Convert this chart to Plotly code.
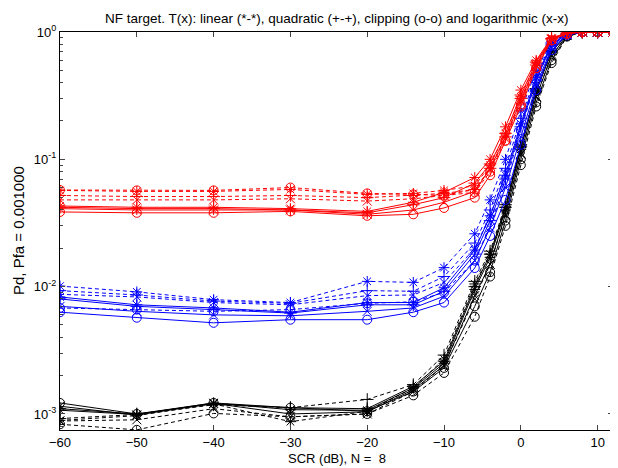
import plotly.graph_objects as go

x = [-60, -50, -40, -30, -20, -14, -10, -6, -4, -2, 0, 2, 4, 6, 8, 10, 12]

# Red group
R_s_lin  = [0.043, 0.042, 0.042, 0.041, 0.039, 0.046, 0.055, 0.072, 0.10, 0.18, 0.35, 0.60, 0.90, 0.98, 1, 1, 1]
R_s_quad = [0.042, 0.041, 0.041, 0.040, 0.038, 0.044, 0.050, 0.065, 0.092, 0.16, 0.32, 0.58, 0.89, 0.98, 1, 1, 1]
R_s_clip = [0.0386, 0.038, 0.038, 0.039, 0.036, 0.037, 0.0415, 0.050, 0.075, 0.14, 0.26, 0.52, 0.86, 0.97, 1, 1, 1]
R_s_log  = [0.041, 0.040, 0.040, 0.040, 0.037, 0.040, 0.046, 0.056, 0.085, 0.15, 0.29, 0.55, 0.88, 0.98, 1, 1, 1]
R_d_lin  = [0.057, 0.056, 0.056, 0.058, 0.053, 0.054, 0.057, 0.062, 0.09, 0.16, 0.31, 0.57, 0.89, 0.98, 1, 1, 1]
R_d_quad = [0.052, 0.051, 0.051, 0.052, 0.050, 0.052, 0.054, 0.058, 0.085, 0.15, 0.30, 0.55, 0.88, 0.98, 1, 1, 1]
R_d_clip = [0.0574, 0.057, 0.057, 0.060, 0.054, 0.053, 0.052, 0.055, 0.08, 0.14, 0.27, 0.52, 0.86, 0.97, 1, 1, 1]
R_d_log  = [0.048, 0.048, 0.048, 0.049, 0.047, 0.049, 0.052, 0.058, 0.083, 0.145, 0.28, 0.54, 0.87, 0.98, 1, 1, 1]

# Blue group
B_d_lin  = [0.0101, 0.0091, 0.0079, 0.0075, 0.011, 0.0108, 0.0141, 0.026, 0.048, 0.10, 0.24, 0.50, 0.84, 0.97, 1, 1, 1]
B_d_quad = [0.0093, 0.0086, 0.0077, 0.0074, 0.0093, 0.0092, 0.012, 0.022, 0.040, 0.085, 0.21, 0.46, 0.82, 0.97, 1, 1, 1]
B_d_clip = [0.0068, 0.0066, 0.0064, 0.0066, 0.0074, 0.0076, 0.0090, 0.016, 0.030, 0.065, 0.17, 0.42, 0.78, 0.96, 1, 1, 1]
B_d_log  = [0.0087, 0.0083, 0.0075, 0.0072, 0.0085, 0.0086, 0.0108, 0.020, 0.036, 0.078, 0.19, 0.44, 0.80, 0.96, 1, 1, 1]
B_s_lin  = [0.0083, 0.0072, 0.0068, 0.0063, 0.0075, 0.0075, 0.0098, 0.0194, 0.036, 0.075, 0.19, 0.44, 0.80, 0.96, 1, 1, 1]
B_s_quad = [0.0080, 0.0070, 0.0066, 0.0062, 0.0072, 0.0072, 0.0092, 0.018, 0.033, 0.07, 0.18, 0.42, 0.79, 0.96, 1, 1, 1]
B_s_clip = [0.0063, 0.0057, 0.0052, 0.0055, 0.0055, 0.0063, 0.0075, 0.014, 0.025, 0.048, 0.13, 0.35, 0.72, 0.95, 1, 1, 1]
B_s_log  = [0.0070, 0.0064, 0.0060, 0.0059, 0.0064, 0.0068, 0.0084, 0.016, 0.029, 0.060, 0.15, 0.38, 0.75, 0.95, 1, 1, 1]

# Black group
K_s_lin  = [0.00107, 0.00099, 0.00122, 0.00108, 0.00107, 0.0016, 0.0025, 0.0095, 0.017, 0.040, 0.12, 0.34, 0.70, 0.95, 1, 1, 1]
K_s_quad = [0.00110, 0.00100, 0.00120, 0.00112, 0.00110, 0.00165, 0.0026, 0.010, 0.018, 0.042, 0.125, 0.35, 0.71, 0.95, 1, 1, 1]
K_s_clip = [0.00122, 0.00100, 0.00122, 0.00112, 0.00105, 0.0015, 0.0023, 0.0070, 0.013, 0.033, 0.10, 0.28, 0.60, 0.93, 1, 1, 1]
K_s_log  = [0.00115, 0.00098, 0.00121, 0.00100, 0.00104, 0.00155, 0.0024, 0.0085, 0.015, 0.037, 0.11, 0.31, 0.65, 0.94, 1, 1, 1]
K_d_lin  = [0.00089, 0.00097, 0.00120, 0.00087, 0.00105, 0.0016, 0.0027, 0.0105, 0.018, 0.042, 0.125, 0.35, 0.71, 0.95, 1, 1, 1]
K_d_quad = [0.00092, 0.00099, 0.00118, 0.00112, 0.0013, 0.0017, 0.0029, 0.011, 0.019, 0.044, 0.13, 0.36, 0.72, 0.95, 1, 1, 1]
K_d_clip = [0.00083, 0.00075, 0.00101, 0.00095, 0.00100, 0.0014, 0.0021, 0.0058, 0.012, 0.030, 0.09, 0.26, 0.57, 0.92, 1, 1, 1]
K_d_log  = [0.00088, 0.00090, 0.00110, 0.00095, 0.00100, 0.0015, 0.0024, 0.0080, 0.015, 0.036, 0.11, 0.31, 0.65, 0.94, 1, 1, 1]

x_ticks = [-60, -50, -40, -30, -20, -10, 0, 10]
y_ticks = [1e-3, 1e-2, 1e-1, 1]
y_tick_text = ["10<sup>-3</sup>", "10<sup>-2</sup>", "10<sup>-1</sup>", "10<sup>0</sup>"]

FONT = "Liberation Sans, Arial, Helvetica, sans-serif"

groups = [
    ("#000000", [(K_s_lin, K_s_quad, K_s_clip, K_s_log, "solid"), (K_d_lin, K_d_quad, K_d_clip, K_d_log, "4px,3px")]),
    ("#0000ff", [(B_s_lin, B_s_quad, B_s_clip, B_s_log, "solid"), (B_d_lin, B_d_quad, B_d_clip, B_d_log, "4px,3px")]),
    ("#ff0000", [(R_s_lin, R_s_quad, R_s_clip, R_s_log, "solid"), (R_d_lin, R_d_quad, R_d_clip, R_d_log, "4px,3px")]),
]
symbols = ["asterisk-open", "cross-thin-open", "circle-open", "x-thin-open"]

fig = go.Figure()
for color, styles in groups:
    for lin, quad, clip, lg, dash in styles:
        for ys, sym in zip((lin, quad, clip, lg), symbols):
            fig.add_trace(go.Scatter(
                x=x, y=ys, mode="lines+markers",
                line=dict(color=color, width=1, dash=dash),
                marker=dict(symbol=sym, size=9, color=color,
                            line=dict(color=color, width=1)),
                showlegend=False, hoverinfo="skip"))

# page body has an 8px margin; compensate so the axes land where the reference has them
fig.update_layout(
    width=610, height=460,
    margin=dict(l=52, r=5, t=24, b=38, autoexpand=False),
    paper_bgcolor="white", plot_bgcolor="white",
    font=dict(family=FONT, size=13, color="black"),
    annotations=[
        dict(text="NF target. T(x): linear (*-*), quadratic (+-+), clipping (o-o) and logarithmic (x-x)",
             x=0.5, xref="paper", y=1, yref="paper", yshift=14, showarrow=False,
             yanchor="middle", font=dict(size=13.5)),
        dict(text="SCR (dB), N =  8", x=0.5, xref="paper", y=0, yref="paper",
             yshift=-28, showarrow=False, yanchor="middle", font=dict(size=13)),
        dict(text="Pd, Pfa = 0.001000", x=0, xref="paper", xshift=-42, y=0.5, yref="paper",
             showarrow=False, textangle=-90, xanchor="center", yanchor="middle",
             font=dict(size=15)),
    ],
)

fig.update_xaxes(range=[-60, 12], tickvals=x_ticks, ticks="inside", ticklen=5,
                 showline=True, linecolor="black", linewidth=1, mirror="ticks",
                 showgrid=False, zeroline=False, tickfont=dict(size=13), automargin=False)
fig.update_yaxes(type="log", range=[-3.126, 0], tickvals=y_ticks, ticktext=y_tick_text,
                 ticks="inside", ticklen=5, showline=True, linecolor="black", linewidth=1,
                 mirror="ticks", showgrid=False, zeroline=False, tickfont=dict(size=13),
                 automargin=False,
                 minor=dict(ticks="inside", ticklen=3, dtick="D1", showgrid=False))

fig.write_html("out.html")
